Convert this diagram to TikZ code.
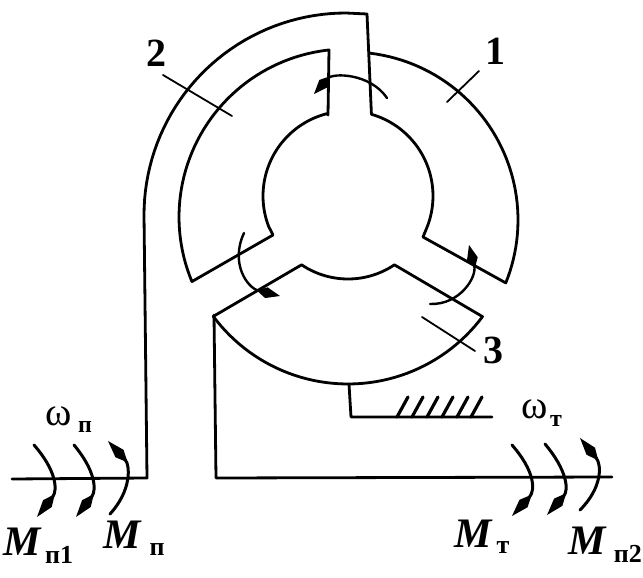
\documentclass[tikz,border=0pt]{standalone}
\usepackage{fontspec}
\setmainfont{Liberation Serif}
\usetikzlibrary{arrows.meta}
\tikzset{
  wire/.style={line width=2.8pt,line join=round,line cap=round},
  thin wire/.style={line width=1.8pt,line cap=round},
  hatchline/.style={line width=3.2pt,line cap=round},
  moment/.style={line width=3pt,line cap=round,-{Kite[length=29pt,width=11pt,inset=12pt]}},
  rotn/.style={line width=2.4pt,line cap=round,-{Kite[length=24pt,width=11pt,inset=10pt]}},
  digit/.style={inner sep=0pt,font=\fontsize{40}{40}\selectfont\bfseries},
  bigm/.style={inner sep=0pt,font=\fontsize{42}{42}\selectfont\bfseries\itshape},
  subl/.style={inner sep=0pt,font=\fontsize{26}{26}\selectfont\bfseries},
  omega/.style={inner sep=0pt,font=\fontsize{40}{40}\selectfont},
  subo/.style={inner sep=0pt,font=\fontsize{24}{24}\selectfont\bfseries}
}
\begin{document}
\begin{tikzpicture}[x=1pt,y=-1pt]
\useasboundingbox (0,0) rectangle (643,578);
% sector 1
\draw[wire] plot[domain=83:-22,samples=50] ({350+168*cos(\x)},{220-168*sin(\x)})
   -- (423,237) -- plot[domain=-21:74,samples=40] ({348+85*cos(\x)},{196-85*sin(\x)}) -- (367,14);
% outer conductor of sector 2
\draw[wire] (367,14) -- plot[domain=90:180,samples=40] ({346+202*cos(\x)},{215-202*sin(\x)}) -- (147,478) -- (12,479);
% sector 2
\draw[wire] (328,115) -- (329,50) -- plot[domain=97:202.6,samples=50] ({347+168*cos(\x)},{217-168*sin(\x)})
   -- (273,235) -- plot[domain=201:104,samples=40] ({348+85*cos(\x)},{196-85*sin(\x)}) -- cycle;
% sector 3
\draw[wire] plot[domain=216.7:323.2,samples=50] ({348+168*cos(\x)},{216-168*sin(\x)})
   -- plot[domain=-56:-124,samples=30] ({348+83*cos(\x)},{196-83*sin(\x)}) -- cycle;
% stems and shaft
\draw[wire] (214,315) -- (216,478) -- (612,477);
\draw[wire] (349,384) -- (351,417) -- (492,417);
\foreach \hx in {397,412,427,442,457,471} \draw[hatchline] (\hx,417) -- (\hx+11,397);
% rotation arrows
\draw[rotn] (387,98) .. controls (370,73) and (333,73) .. (314,94);
\draw[rotn] (244,233) .. controls (230,263) and (247,288) .. (280,296);
\draw[rotn] (430,304) .. controls (460,305) and (477,277) .. (469,245);
% leaders
\draw[thin wire] (163,75) -- (232,116);
\draw[thin wire] (479,71) -- (447,102);
\draw[thin wire] (422,317) -- (475,351);
% moment arrows
\draw[moment] (34,445) .. controls (56,470) and (58,490) .. (37,517);
\draw[moment] (74,445) .. controls (95,470) and (97,490) .. (76,517);
\draw[moment] (110,514) .. controls (132,490) and (130,465) .. (108,441);
\draw[moment] (512,445) .. controls (534,470) and (536,490) .. (512,516);
\draw[moment] (545,444) .. controls (567,470) and (569,490) .. (547,515);
\draw[moment] (580,510) .. controls (602,488) and (602,465) .. (580,438);
% labels
\node[digit] (l2) at (156,53) {2};
\node[digit] (l1) at (495,51) {1};
\node[digit] (l3) at (493,350) {3};
\node[omega] (w1) at (59,416) {ω};
\node[subo] (w1s) at (85,427) {п};
\node[omega] (w2) at (535,409) {ω};
\node[subo] (w2s) at (556,421) {т};
\node[bigm] (m1) at (22,542) {M};
\node[subl,anchor=west] (m1s) at (45,555) {п1};
\node[bigm] (m2) at (122,535) {M};
\node[subl] (m2s) at (157,550) {п};
\node[bigm] (m3) at (473,534) {M};
\node[subl] (m3s) at (503,548) {т};
\node[bigm] (m4) at (587,541) {M};
\node[subl,anchor=east] (m4s) at (642,554) {п2};
\end{tikzpicture}
\end{document}
